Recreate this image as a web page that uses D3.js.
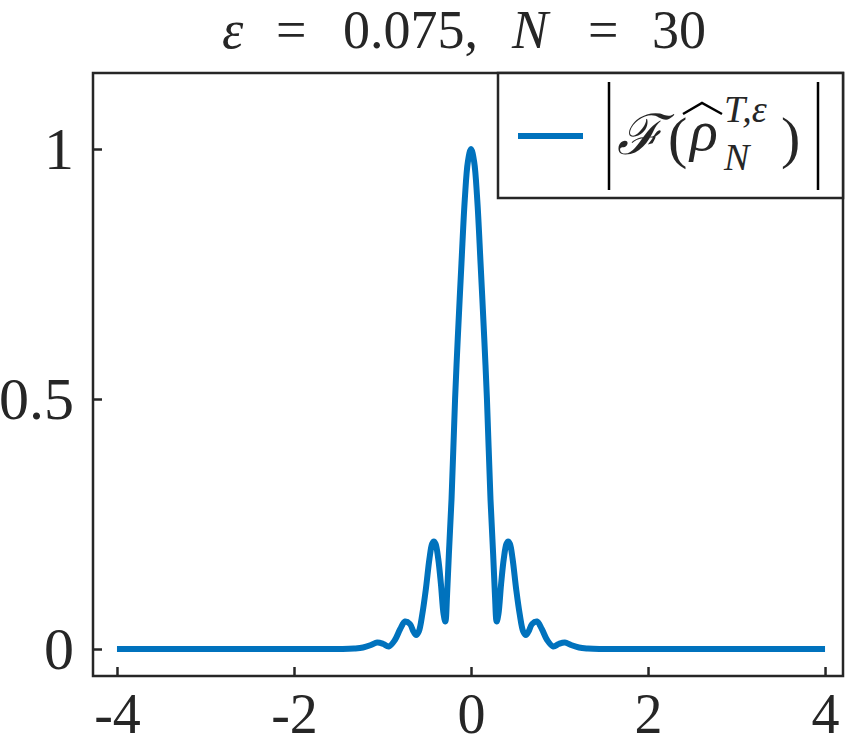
<!DOCTYPE html>
<html><head><meta charset="utf-8">
<script src="https://cdn.jsdelivr.net/npm/d3@7"></script>
<style>
body{margin:0;background:#fff;}
text{font-family:"Liberation Serif","DejaVu Serif",serif;fill:#262626;}
</style></head>
<body><svg id="c" width="850" height="746"></svg>
<script>
const xTicks = [-4, -2, 0, 2, 4];
const xTickLabels = ["-4", "-2", "0", "2", "4"];
const yTicks = [0, 0.5, 1];
const yTickLabels = ["0", "0.5", "1"];
const halfX = [0, 0.035, 0.07, 0.108, 0.15, 0.18, 0.22, 0.25, 0.27, 0.29, 0.31, 0.34, 0.37, 0.40, 0.42, 0.44, 0.47, 0.51, 0.55, 0.59, 0.62, 0.65, 0.69, 0.745, 0.80, 0.86, 0.93, 0.99, 1.06, 1.13, 1.22, 1.32, 1.45, 2.0, 3.0, 4.0];
const halfY = [1, 0.975, 0.9, 0.771, 0.62, 0.5, 0.3, 0.19, 0.11, 0.055, 0.07, 0.13, 0.18, 0.21, 0.215, 0.21, 0.18, 0.12, 0.07, 0.035, 0.028, 0.035, 0.05, 0.055, 0.04, 0.018, 0.005, 0.01, 0.013, 0.008, 0.003, 0.001, 0, 0, 0, 0];
// full symmetric series
const xs = halfX.slice(1).reverse().map(v => -v).concat(halfX);
const ys = halfY.slice(1).reverse().concat(halfY);
const data = xs.map((x, i) => [x, ys[i]]);

const svg = d3.select("#c");
const L = 93, R = 843, T = 73, B = 676;
const x = d3.scaleLinear().domain([-4.271, 4.203]).range([L, R]);
const y = d3.scaleLinear().domain([-0.054, 1.152]).range([B, T]);
const axisColor = "#262626";

// curve
svg.append("path").datum(data)
  .attr("d", d3.line().x(d => x(d[0])).y(d => y(d[1])).curve(d3.curveCatmullRom.alpha(0.5)))
  .attr("fill", "none").attr("stroke", "#0072BD").attr("stroke-width", 6)
  .attr("stroke-linejoin", "round");

// axes
const xAxis = d3.axisBottom(x).tickValues(xTicks).tickFormat((d, i) => xTickLabels[i]).tickSizeInner(-9).tickSizeOuter(0).tickPadding(0);
const gx = svg.append("g").attr("transform", `translate(0,${B})`).call(xAxis);
gx.select(".domain").remove();
gx.selectAll(".tick line").attr("stroke", axisColor).attr("stroke-width", 2.5);
gx.selectAll(".tick text").attr("font-size", 56).attr("dy", null).attr("y", 57)
  .attr("font-family", "Liberation Serif, serif").attr("fill", axisColor);

const yAxis = d3.axisLeft(y).tickValues(yTicks).tickFormat((d, i) => yTickLabels[i]).tickSizeInner(-9).tickSizeOuter(0).tickPadding(0);
const gy = svg.append("g").attr("transform", `translate(${L},0)`).call(yAxis);
gy.select(".domain").remove();
gy.selectAll(".tick line").attr("stroke", axisColor).attr("stroke-width", 2.5);
gy.selectAll(".tick text").attr("font-size", 60).attr("x", -19).attr("dy", "0.32em")
  .attr("font-family", "Liberation Serif, serif").attr("fill", axisColor);

// box
svg.append("rect").attr("x", L).attr("y", T).attr("width", R - L).attr("height", B - T)
  .attr("fill", "none").attr("stroke", axisColor).attr("stroke-width", 2.5);

// title
const title = svg.append("text").attr("y", 48).attr("font-size", 54);
title.append("tspan").attr("x", 222).attr("font-style", "italic").text("ε");
title.append("tspan").attr("x", 276).text("=");
title.append("tspan").attr("x", 343).text("0.075,");
title.append("tspan").attr("x", 512).attr("font-style", "italic").text("N");
title.append("tspan").attr("x", 588).text("=");
title.append("tspan").attr("x", 652).text("30");

// legend
const lg = svg.append("g");
lg.append("rect").attr("x", 498).attr("y", T).attr("width", R - 498).attr("height", 125)
  .attr("fill", "#fff").attr("stroke", axisColor).attr("stroke-width", 2.5);
lg.append("line").attr("x1", 518).attr("x2", 583).attr("y1", 136).attr("y2", 136)
  .attr("stroke", "#0072BD").attr("stroke-width", 6);
lg.append("line").attr("x1", 609).attr("x2", 609).attr("y1", 82).attr("y2", 190).attr("stroke", "#000").attr("stroke-width", 2.5);
lg.append("line").attr("x1", 818).attr("x2", 818).attr("y1", 82).attr("y2", 190).attr("stroke", "#000").attr("stroke-width", 2.5);
lg.append("text").attr("x", 617).attr("y", 154).attr("font-size", 56).attr("font-style", "italic").attr("fill", "#000").text("ℱ");
lg.append("text").attr("x", 668).attr("y", 157).attr("font-size", 58).attr("fill", "#000").text("(");
lg.append("text").attr("x", 690).attr("y", 150).attr("font-size", 58).attr("font-style", "italic").attr("fill", "#000").text("ρ");
lg.append("path").attr("d", "M683,114 L702,103 L722,114").attr("fill", "none").attr("stroke", "#000").attr("stroke-width", 2.5);
lg.append("text").attr("x", 724).attr("y", 122).attr("font-size", 38).attr("font-style", "italic").attr("fill", "#000").text("T,ε");
lg.append("text").attr("x", 724).attr("y", 170).attr("font-size", 38).attr("font-style", "italic").attr("fill", "#000").text("N");
lg.append("text").attr("x", 781).attr("y", 157).attr("font-size", 58).attr("fill", "#000").text(")");
</script></body></html>
